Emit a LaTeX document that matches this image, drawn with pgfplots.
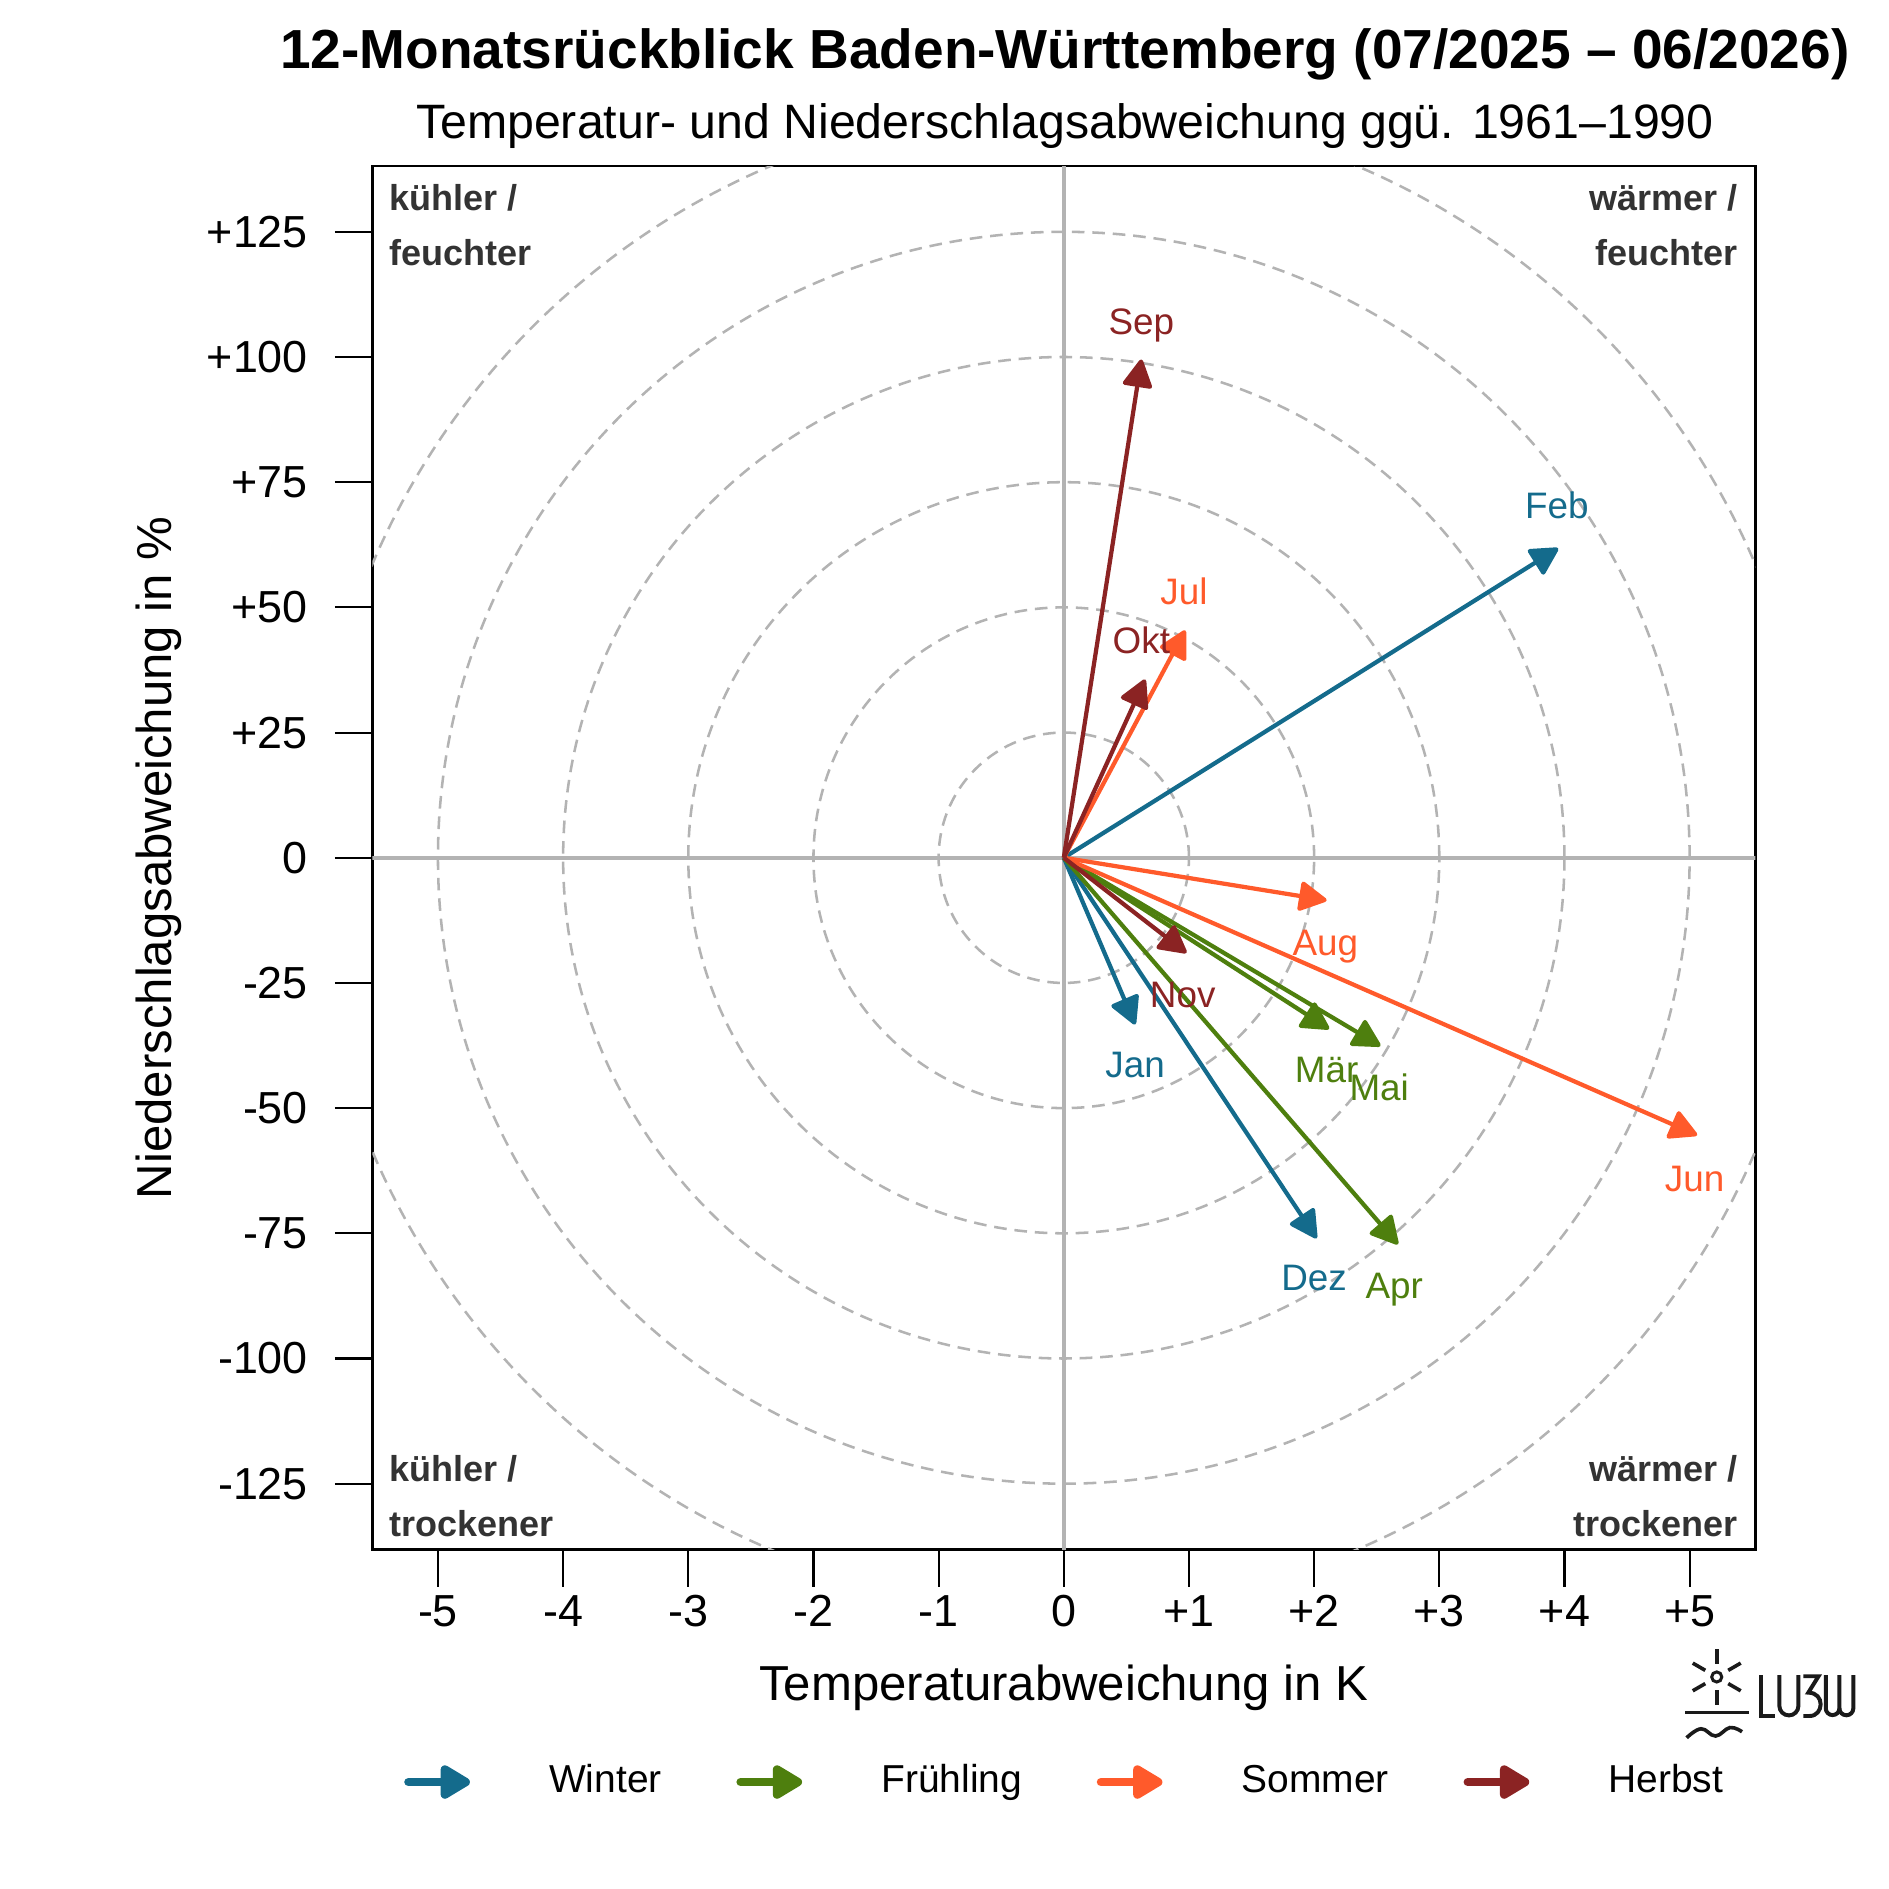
\documentclass[border=0pt]{standalone}
\usepackage{fontspec}
\setmainfont{Liberation Sans}
\usepackage{pgfplots}
\usepackage{pgfplotstable}
\pgfplotsset{compat=1.18}
\usetikzlibrary{arrows.meta}
\definecolor{winter}{HTML}{146B8C}
\definecolor{fruehling}{HTML}{4E7F0E}
\definecolor{sommer}{HTML}{FF5A2B}
\definecolor{herbst}{HTML}{8B2323}
\definecolor{gridgray}{HTML}{B3B3B3}
\definecolor{quadtext}{HTML}{333333}
\definecolor{logo}{HTML}{1A1A1A}

% arrows start at the origin; u = temperature deviation (K), v = precipitation deviation (%)
\pgfplotstableread{
x y u v
0 0 2.02 -76.0
0 0 0.57 -33.3
0 0 3.95 61.8
}\winterdata
\pgfplotstableread{
x y u v
0 0 2.12 -34.2
0 0 2.67 -77.2
0 0 2.53 -37.6
}\fruehlingdata
\pgfplotstableread{
x y u v
0 0 0.97 45.4
0 0 2.10 -8.5
0 0 5.06 -55.4
}\sommerdata
\pgfplotstableread{
x y u v
0 0 0.62 99.5
0 0 0.65 35.6
0 0 0.98 -19.0
}\herbstdata
% label positions
\pgfplotstableread{
x y lab
2.00 -83.8 Dez
0.57 -41.2 Jan
3.94 70.4 Feb
}\winterlab
\pgfplotstableread{
x y lab
2.10 -42.2 Mär
2.64 -85.3 Apr
2.52 -45.8 Mai
}\fruehlinglab
\pgfplotstableread{
x y lab
0.96 53.3 Jul
2.09 -16.9 Aug
5.04 -64.1 Jun
}\sommerlab
\pgfplotstableread{
x y lab
0.62 107.2 Sep
0.62 43.4 Okt
0.95 -27.2 Nov
}\herbstlab

\tikzset{
  arr/.style={line width=1pt, -{Triangle[length=2.5mm,width=2.6mm,round]}},
}
\pgfplotsset{
  lab/.style={draw=none, mark=none, forget plot, nodes near coords, point meta=explicit symbolic,
    every node near coord/.style={anchor=base, yshift=-1.1mm, font=\fontsize{8.7}{10}\selectfont, text=#1}},
}

\begin{document}
\begin{tikzpicture}
\path[use as bounding box] (-3.09,-2.82) rectangle (12.59,12.86);
\begin{axis}[
  at={(0,0)}, anchor=south west,
  scale only axis, width=11.48cm, height=11.48cm,
  xmin=-5.525, xmax=5.525, ymin=-138.1, ymax=138.1,
  axis line style={black, line width=0.6pt},
  tick align=outside, major tick length=3.1mm,
  tick style={black, line width=0.5pt},
  xtick pos=bottom, ytick pos=left,
  xtick={-5,-4,-3,-2,-1,0,1,2,3,4,5},
  xticklabels={-5,-4,-3,-2,-1,0,+1,+2,+3,+4,+5},
  ytick={-125,-100,-75,-50,-25,0,25,50,75,100,125},
  yticklabels={-125,-100,-75,-50,-25,0,+25,+50,+75,+100,+125},
  ticklabel style={font=\fontsize{10.6}{12}\selectfont},
  xticklabel style={yshift=0.5mm},
  yticklabel style={xshift=-1mm},
  /pgf/number format/assume math mode=true,
  xlabel={Temperaturabweichung in K},
  ylabel={Niederschlagsabweichung in \%},
  label style={font=\fontsize{11.6}{13}\selectfont},
  xlabel style={at={(axis description cs:0.5,-0.1094)}, anchor=base},
  ylabel style={at={(axis description cs:-0.1455,0.5)}, anchor=base},
  legend columns=4,
  legend image code/.code={\draw[#1, line width=2pt, line cap=round, -{Triangle[length=2.8mm,width=3.1mm,round]}] (0mm,0mm) -- (5.1mm,0mm);},
  legend style={at={(axis description cs:0.503,-0.1683)}, anchor=center, draw=none, fill=none,
    font=\fontsize{9.2}{11}\selectfont, column sep=5.5mm},
]
% reference circles (1 K = 25 %)
\draw[gridgray, line width=0.6pt, dash pattern=on 1.05mm off 0.65mm] (0,0) ellipse [x radius=1, y radius=25];
\draw[gridgray, line width=0.6pt, dash pattern=on 1.05mm off 0.65mm] (0,0) ellipse [x radius=2, y radius=50];
\draw[gridgray, line width=0.6pt, dash pattern=on 1.05mm off 0.65mm] (0,0) ellipse [x radius=3, y radius=75];
\draw[gridgray, line width=0.6pt, dash pattern=on 1.05mm off 0.65mm] (0,0) ellipse [x radius=4, y radius=100];
\draw[gridgray, line width=0.6pt, dash pattern=on 1.05mm off 0.65mm] (0,0) ellipse [x radius=5, y radius=125];
\draw[gridgray, line width=0.6pt, dash pattern=on 1.05mm off 0.65mm] (0,0) ellipse [x radius=6, y radius=150];
\draw[gridgray, line width=1pt] (-6,0) -- (6,0);
\draw[gridgray, line width=1pt] (0,-150) -- (0,150);

\addplot[forget plot, winter, arr, quiver={u=\thisrow{u}, v=\thisrow{v}}] table {\winterdata};
\addplot[forget plot, fruehling, arr, quiver={u=\thisrow{u}, v=\thisrow{v}}] table {\fruehlingdata};
\addplot[forget plot, sommer, arr, quiver={u=\thisrow{u}, v=\thisrow{v}}] table {\sommerdata};
\addplot[forget plot, herbst, arr, quiver={u=\thisrow{u}, v=\thisrow{v}}] table {\herbstdata};

\addplot[lab=winter] table[meta=lab] {\winterlab};
\addplot[lab=fruehling] table[meta=lab] {\fruehlinglab};
\addplot[lab=sommer] table[meta=lab] {\sommerlab};
\addplot[lab=herbst] table[meta=lab] {\herbstlab};

\addlegendimage{winter}\addlegendentry{Winter}
\addlegendimage{fruehling}\addlegendentry{Frühling}
\addlegendimage{sommer}\addlegendentry{Sommer}
\addlegendimage{herbst}\addlegendentry{Herbst}
\end{axis}

% titles
\node[anchor=base, font=\bfseries\fontsize{13}{15}\selectfont] at (5.75,12.29) {12-Monatsrückblick Baden-Württemberg (07/2025 – 06/2026)};
\node[anchor=base, font=\fontsize{11.4}{13}\selectfont] at (5.75,11.71) {Temperatur- und Niederschlagsabweichung ggü. 1961–1990};

% quadrant texts
\begin{scope}[every node/.style={font=\bfseries\fontsize{8.5}{10}\selectfont, text=quadtext, inner sep=0pt}]
\node[anchor=base west] at (0.14,11.11) {kühler /};
\node[anchor=base west] at (0.14,10.66) {feuchter};
\node[anchor=base east] at (11.34,11.11) {wärmer /};
\node[anchor=base east] at (11.34,10.66) {feuchter};
\node[anchor=base west] at (0.14,0.56) {kühler /};
\node[anchor=base west] at (0.14,0.11) {trockener};
\node[anchor=base east] at (11.34,0.56) {wärmer /};
\node[anchor=base east] at (11.34,0.11) {trockener};
\end{scope}

% LUBW logo
\begin{scope}[logo, line width=0.3mm]
\draw[line width=0.25mm] (11.16,-1.06) circle [radius=0.042];
\foreach \a in {90,30,150,-30,-150,-90} \draw (11.16,-1.06) ++(\a:0.11) -- ++(\a:0.12);
\draw[line width=0.24mm] (10.897,-1.357) -- (11.428,-1.357);
\draw[line width=0.3mm] plot[smooth, tension=0.7] coordinates {(10.91,-1.565) (11.03,-1.49) (11.15,-1.55) (11.27,-1.48) (11.37,-1.515)};
\draw[line width=0.33mm] (11.525,-1.044) -- (11.525,-1.384) -- (11.644,-1.384);
\draw[line width=0.33mm] (11.68,-1.044) -- (11.68,-1.30) arc[start angle=180, end angle=360, radius=0.079] -- (11.838,-1.044);
\draw[line width=0.33mm] (11.879,-1.054) -- (12.005,-1.054) -- (11.92,-1.19) .. controls (12.06,-1.19) and (12.05,-1.384) .. (11.93,-1.384) -- (11.879,-1.384);
\draw[line width=0.33mm] (12.065,-1.044) -- (12.065,-1.32) arc[start angle=180, end angle=360, radius=0.0565] -- (12.178,-1.044);
\draw[line width=0.33mm] (12.178,-1.32) arc[start angle=180, end angle=360, radius=0.058] -- (12.294,-1.044);
\end{scope}
\end{tikzpicture}
\end{document}
